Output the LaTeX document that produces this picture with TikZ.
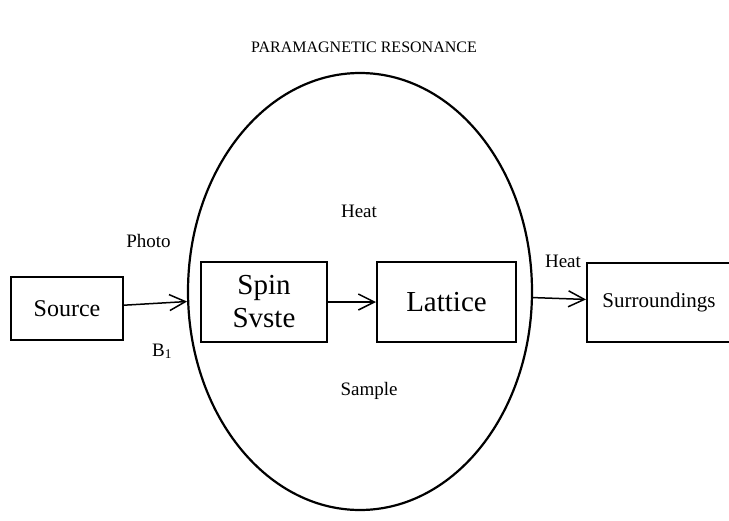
\documentclass[tikz,border=0pt]{standalone}
\usepackage{fontspec}
\setmainfont{Liberation Serif}
\usetikzlibrary{arrows.meta}
\usetikzlibrary{positioning}
\usetikzlibrary{shapes.geometric}

\begin{document}
\begin{tikzpicture}[x=1pt,y=-1pt,->,>={Straight Barb[length=16pt,width=16pt]},
			line width=1.5pt]
			\tikzstyle{block}=[draw,rectangle,line width=2pt,inner sep=0pt]
			\tikzstyle{lbl}=[inner sep=0pt,anchor=base,font=\fontsize{19}{22}\selectfont]
			
			\useasboundingbox (0,0) rectangle (729,520);
			
			\node[draw,ellipse,line width=2.2pt,minimum width=344pt,minimum height=437pt] (sample) at (360,291.5) {};
			\node[block,minimum width=112pt,minimum height=63pt,font=\fontsize{24}{28}\selectfont] (source) at (67,308.5) {Source};
			\node[block,minimum width=126pt,minimum height=80pt,align=center,font=\fontsize{29}{33}\selectfont] (spin) at (264,302) {Spin\\Svste};
			\node[block,minimum width=139pt,minimum height=80pt,font=\fontsize{29}{33}\selectfont] (lattice) [right=48pt of spin] {Lattice};
			\node[block,minimum width=144pt,minimum height=79pt,font=\fontsize{21}{25}\selectfont] (surr) [right=69pt of lattice] {Surroundings};
			
			\node[lbl] (title) at (364,52) {\fontsize{16}{19}\selectfont PARAMAGNETIC RESONANCE};
			\node[lbl] (photo) at (148.5,247) {Photo};
			\node[lbl] (bone) at (162,356) {B\textsubscript{1}};
			\node[lbl] (heatin) at (359,217) {Heat};
			\node[lbl] (heatout) at (563,267) {Heat};
			\node[lbl] (samplelbl) at (369,395) {Sample};
			
			\path (source) edge (sample)
			(spin) edge (lattice)
			(sample) edge (surr);
			\end{tikzpicture}
\end{document}
